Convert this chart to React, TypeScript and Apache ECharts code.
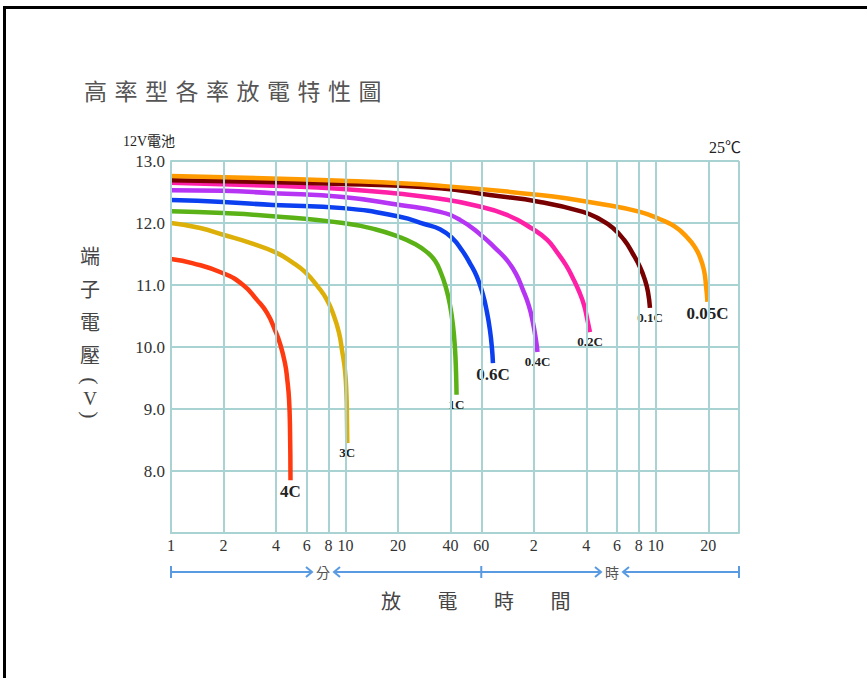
import React, { useEffect, useRef } from "react";
import * as echarts from "echarts";

// ---- data ----
const gridTimes = [1, 2, 4, 6, 8, 10, 20, 40, 60, 120, 240, 360, 480, 600, 1200, 1800];
const tickLabels = ["1", "2", "4", "6", "8", "10", "20", "40", "60", "2", "4", "6", "8", "10", "20", ""];
const yTicks = [7, 8, 9, 10, 11, 12, 13];

const rateNames = ["4C", "3C", "1C", "0.6C", "0.4C", "0.2C", "0.1C", "0.05C"];

const t4C = [1, 1.34, 1.99, 2.59, 3.11, 3.55, 3.95, 4.21, 4.5, 4.64, 4.75, 4.81, 4.84];
const v4C = [11.42, 11.35, 11.19, 11.0, 10.76, 10.55, 10.27, 10.06, 9.74, 9.47, 9.15, 8.66, 7.85];
const t3C = [1, 1.47, 1.99, 2.84, 3.95, 4.94, 5.86, 6.96, 7.83, 8.59, 9.18, 9.55, 9.93, 10.13, 10.2, 10.24];
const v3C = [12.0, 11.92, 11.81, 11.68, 11.53, 11.37, 11.21, 10.97, 10.76, 10.5, 10.23, 9.95, 9.63, 9.23, 8.82, 8.45];
const t1C = [1, 1.99, 3.84, 9.67, 14.76, 20.53, 25.0, 29.3, 32.6, 35.3, 37.7, 39.7, 41.3, 42.4, 43.0, 43.3];
const v1C = [12.19, 12.16, 12.11, 12.0, 11.9, 11.77, 11.66, 11.53, 11.39, 11.19, 10.95, 10.68, 10.35, 9.98, 9.6, 9.23];
const t06C = [1, 1.99, 3.84, 9.67, 20.5, 28.6, 34.8, 40.8, 46.5, 51.7, 56.7, 61.4, 64.7, 67.3, 69.1, 70.0];
const v06C = [12.37, 12.34, 12.29, 12.24, 12.1, 11.98, 11.9, 11.76, 11.56, 11.35, 11.13, 10.84, 10.56, 10.27, 9.98, 9.74];
const t04C = [1, 1.99, 3.84, 9.67, 20.5, 34.8, 45.3, 59.0, 71.9, 84.2, 94.9, 104, 112.6, 118.7, 123.5, 126];
const v04C = [12.53, 12.52, 12.48, 12.42, 12.29, 12.18, 12.05, 11.82, 11.6, 11.4, 11.18, 10.92, 10.66, 10.39, 10.11, 9.92];
const t02C = [1, 3.84, 9.67, 20.5, 34.8, 53.8, 84.2, 118.7, 142.8, 162.9, 183.5, 201.2, 217.8, 232.7, 242.1, 251.8];
const v02C = [12.65, 12.6, 12.55, 12.47, 12.39, 12.29, 12.13, 11.9, 11.73, 11.53, 11.32, 11.11, 10.9, 10.68, 10.47, 10.24];
const t01C = [1, 9.67, 34.8, 67.3, 130.2, 229.6, 287.3, 341.2, 394.5, 444.3, 487.2, 520.4, 541.4, 555.9];
const v01C = [12.69, 12.63, 12.56, 12.45, 12.34, 12.18, 12.06, 11.92, 11.73, 11.5, 11.29, 11.08, 10.89, 10.63];
const t005C = [1, 9.67, 34.8, 130.2, 315.2, 487.2, 634.4, 773.3, 905.8, 1006.7, 1075.3, 1133.6, 1163.9, 1187.1];
const v005C = [12.76, 12.68, 12.6, 12.45, 12.29, 12.18, 12.06, 11.94, 11.77, 11.61, 11.45, 11.24, 11.0, 10.73];

const rateTimes = [t4C, t3C, t1C, t06C, t04C, t02C, t01C, t005C];
const rateVolts = [v4C, v3C, v1C, v06C, v04C, v02C, v01C, v005C];

const titleChars = ["高", "率", "型", "各", "率", "放", "電", "特", "性", "圖"];
const yTitleChars = ["端", "子", "電", "壓"];
const yTitleUnit = ["(", "V", ")"];
const xTitleChars = ["放", "電", "時", "間"];
const unitLabel = "12V電池";
const tempLabel = "25℃";
const minuteLabel = "分";
const hourLabel = "時";

// ---- styles ----
const rateColors = ["#ff3a10", "#dcb008", "#5ab216", "#0b3ff0", "#b634f4", "#ff20a8", "#780000", "#ff9a00"];
const rateLabelBig = [true, false, false, true, false, false, false, true];
const rateLabelOffset = [[0, 1], [-3, 3], [-1, 3], [1, 1], [-1, 4], [0, 3], [2, 5], [6, 1]];
const GRID = "#a9d2d2";
const SERIF = "'Liberation Serif', 'Noto Sans CJK TC', serif";
const CJK = "'Noto Sans CJK TC', sans-serif";
const ARROW = "#5a9ae0";

export default function App() {
  const ref = useRef<HTMLDivElement>(null);
  useEffect(() => {
    if (!ref.current) return;
    const chart = echarts.init(ref.current, undefined, { renderer: "svg" });

    const curveSeries = rateNames.map((name, i) => {
      const ts = rateTimes[i];
      const vs = rateVolts[i];
      const data: any[] = ts.map((t, k) => [t, vs[k]]);
      const last = data.length - 1;
      data[last] = {
        value: data[last],
        label: {
          show: true,
          position: "bottom",
          distance: 3,
          offset: rateLabelOffset[i],
          formatter: name,
          fontFamily: SERIF,
          fontWeight: "bold",
          fontSize: rateLabelBig[i] ? 17 : 13,
          color: "#222",
        },
      };
      return {
        type: "line",
        name,
        z: 3,
        data,
        smooth: 0.5,
        symbol: "circle",
        symbolSize: 0.1,
        showSymbol: true,
        showAllSymbol: true,
        itemStyle: { color: rateColors[i] },
        lineStyle: { color: rateColors[i], width: 4.5, cap: "butt", join: "round" },
        label: { show: false },
        labelLayout: { hideOverlap: false },
        silent: true,
      };
    });

    const option: any = {
      animation: false,
      backgroundColor: "#fff",
      grid: { left: 171, top: 161, width: 568, height: 372 },
      xAxis: {
        type: "log",
        logBase: 10,
        min: 1,
        max: 1800,
        axisLine: { show: true, lineStyle: { color: GRID, width: 2 } },
        axisTick: { show: false },
        axisLabel: { show: false },
        splitLine: { show: false },
        minorSplitLine: { show: false },
      },
      yAxis: {
        type: "value",
        min: yTicks[0],
        max: yTicks[yTicks.length - 1],
        interval: 1,
        axisLine: { show: true, lineStyle: { color: GRID, width: 2 } },
        axisTick: { show: false },
        splitLine: { show: true, lineStyle: { color: GRID, width: 2 } },
        axisLabel: {
          margin: 6,
          fontFamily: SERIF,
          fontSize: 17,
          color: "#333",
          formatter: (v: number) => (v === yTicks[0] ? "" : v.toFixed(1)),
        },
      },
      series: [
        {
          type: "line",
          name: "grid",
          z: 1,
          data: [],
          silent: true,
          markLine: {
            silent: true,
            symbol: ["none", "none"],
            animation: false,
            lineStyle: { color: GRID, width: 2, type: "solid" },
            label: {
              show: true,
              position: "start",
              distance: 4,
              formatter: (p: any) => p.name,
              fontFamily: SERIF,
              fontSize: 16,
              color: "#333",
            },
            emphasis: { disabled: true },
            data: gridTimes.map((t, i) => ({ xAxis: t, name: tickLabels[i] })),
          },
        },
        ...curveSeries,
      ],
    };
    chart.setOption(option);

    const px = (t: number) => chart.convertToPixel({ xAxisIndex: 0 }, t) as number;
    const x1 = px(gridTimes[0]);
    const x60 = px(60);
    const xEnd = px(gridTimes[gridTimes.length - 1]);
    const ay = 572;
    const chevron = (tip: number, dir: number) => ({
      type: "polyline",
      shape: { points: [[tip - 6 * dir, ay - 5], [tip, ay], [tip - 6 * dir, ay + 5]] },
      style: { stroke: ARROW, lineWidth: 2, fill: null },
    });
    const hline = (a: number, b: number) => ({
      type: "line",
      shape: { x1: a, y1: ay, x2: b, y2: ay },
      style: { stroke: ARROW, lineWidth: 2 },
    });
    const vbar = (x: number) => ({
      type: "line",
      shape: { x1: x, y1: ay - 6, x2: x, y2: ay + 6 },
      style: { stroke: ARROW, lineWidth: 2 },
    });

    const graphic: any[] = [
      { type: "rect", shape: { x: 3, y: 6, width: 3, height: 700 }, style: { fill: "#000" } },
      { type: "rect", shape: { x: 3, y: 6, width: 900, height: 3 }, style: { fill: "#000" } },
      ...titleChars.map((c, i) => ({
        type: "text",
        x: 95.5 + i * 30.5,
        y: 90,
        style: { text: c, fontSize: 23, fontFamily: CJK, fill: "#555", align: "center", verticalAlign: "middle" },
      })),
      {
        type: "text",
        x: 123,
        y: 141,
        style: { text: unitLabel, fontSize: 14, fontFamily: SERIF, fill: "#222", align: "left", verticalAlign: "middle" },
      },
      {
        type: "text",
        x: 741,
        y: 147,
        style: { text: tempLabel, fontSize: 16, fontFamily: SERIF, fill: "#222", align: "right", verticalAlign: "middle" },
      },
      ...yTitleChars.map((c, i) => ({
        type: "text",
        x: 90,
        y: 255 + i * 33,
        style: { text: c, fontSize: 20, fontFamily: CJK, fill: "#444", align: "center", verticalAlign: "middle" },
      })),
      ...yTitleUnit.map((c, i) => ({
        type: "text",
        x: 90,
        y: [381, 398, 415][i],
        rotation: c === "V" ? 0 : -Math.PI / 2,
        style: {
          text: c,
          fontSize: c === "V" ? 19 : 22,
          fontFamily: SERIF,
          fill: "#444",
          align: "center",
          verticalAlign: "middle",
        },
      })),
      ...xTitleChars.map((c, i) => ({
        type: "text",
        x: 391 + i * 56.5,
        y: 600,
        style: { text: c, fontSize: 20, fontFamily: CJK, fill: "#444", align: "center", verticalAlign: "middle" },
      })),
      vbar(x1),
      vbar(x60),
      vbar(xEnd),
      hline(x1, 312),
      chevron(312, 1),
      { type: "text", x: 323, y: ay, style: { text: minuteLabel, fontSize: 14, fontFamily: CJK, fill: "#555", align: "center", verticalAlign: "middle" } },
      chevron(334, -1),
      hline(334, x60),
      hline(x60, 601),
      chevron(601, 1),
      { type: "text", x: 612, y: ay, style: { text: hourLabel, fontSize: 14, fontFamily: CJK, fill: "#555", align: "center", verticalAlign: "middle" } },
      chevron(623, -1),
      hline(623, xEnd),
    ];
    chart.setOption({ graphic });

    return () => chart.dispose();
  }, []);

  return (
    <div
      ref={ref}
      style={{ position: "fixed", left: 0, top: 0, width: 867, height: 678, background: "#fff" }}
    />
  );
}
